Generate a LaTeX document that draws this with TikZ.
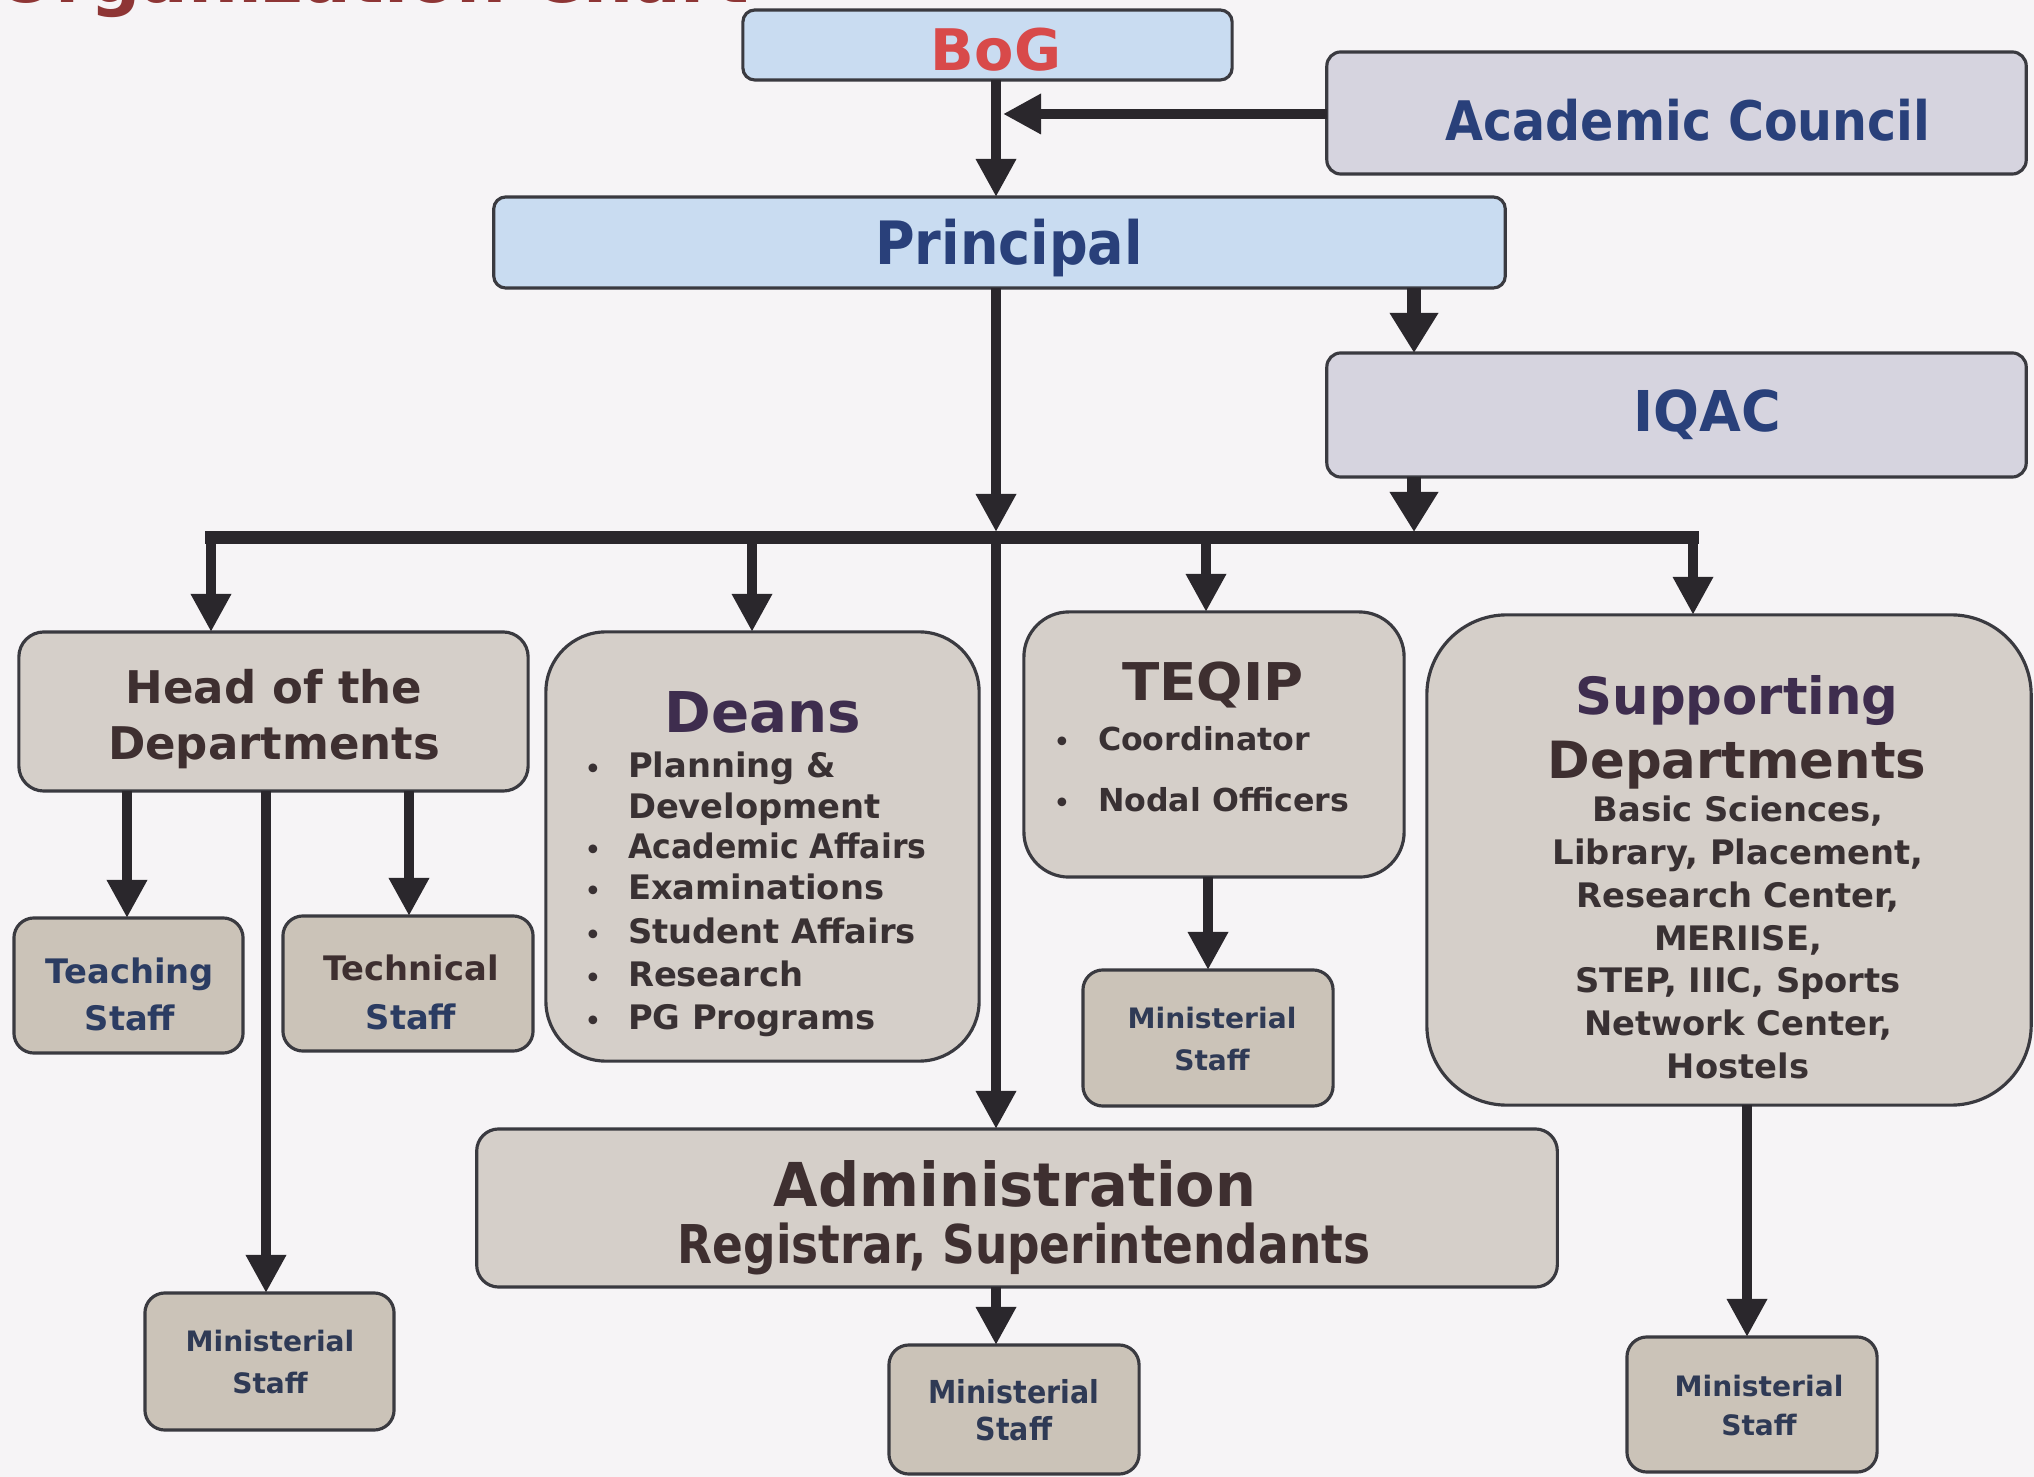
\documentclass[tikz,border=0pt]{standalone}
\usepackage{fontspec}
\usepackage{graphicx}
\setmainfont{DejaVu Sans}
\usetikzlibrary{arrows.meta}
\definecolor{bg}{HTML}{F6F4F6}
\definecolor{bluef}{HTML}{C9DCF1}
\definecolor{lavf}{HTML}{D6D4DF}
\definecolor{beigef}{HTML}{D5CFC9}
\definecolor{stafff}{HTML}{CBC3B8}
\definecolor{boxln}{HTML}{3A3A40}
\definecolor{arrc}{HTML}{2A272C}
\definecolor{redt}{HTML}{D84A4A}
\definecolor{bluet}{HTML}{29407A}
\definecolor{brownt}{HTML}{3E2F30}
\definecolor{purplet}{HTML}{3E2D4E}
\definecolor{itemt}{HTML}{393133}
\definecolor{teacht}{HTML}{2B3C62}
\definecolor{ministt}{HTML}{2F3A55}
\definecolor{titlec}{HTML}{8E3535}
\newcommand\myfs[1]{\fontsize{#1}{#1}\selectfont}
\newcommand\hsc[2]{\scalebox{#1}[1]{#2}}
\begin{document}
\begin{tikzpicture}[x=0.01cm,y=-0.01cm,
  box/.style={draw=boxln,line width=0.9pt,rectangle,inner sep=0pt,outer sep=0pt},
  bluebox/.style={box,fill=bluef,rounded corners=0.12cm},
  lavbox/.style={box,fill=lavf,rounded corners=0.14cm},
  beigebox/.style={box,fill=beigef},
  staffbox/.style={box,fill=stafff,rounded corners=0.2cm},
  lbl/.style={anchor=base,inner sep=0pt,outer sep=0pt,font=\bfseries},
  arr/.style={draw=arrc,line width=2.85pt,-{Triangle[width=0.38cm,length=0.38cm]}},
  bigarr/.style={draw=arrc,line width=4pt,-{Triangle[width=0.46cm,length=0.40cm]}},
  bus/.style={draw=arrc,line width=3.7pt}
]
\useasboundingbox[fill=bg] (0,0) rectangle (2034,1477);

% cropped title
\node[lbl,anchor=base west,text=titlec] (title) at (-4,3) {\myfs{20}Organization Chart};

% boxes
\node[bluebox,minimum width=4.89cm,minimum height=0.70cm] (bog) at (987.5,45) {};
\node[lavbox,minimum width=6.99cm,minimum height=1.22cm] (acad) at (1676.5,113) {};
\node[bluebox,minimum width=10.11cm,minimum height=0.91cm] (princ) at (999.5,242.5) {};
\node[lavbox,minimum width=6.99cm,minimum height=1.24cm] (iqac) at (1676.5,415) {};
\node[beigebox,rounded corners=0.25cm,minimum width=5.09cm,minimum height=1.59cm] (hod) at (273.5,711.5) {};
\node[beigebox,rounded corners=0.6cm,minimum width=4.33cm,minimum height=4.29cm] (deans) at (762.5,846.5) {};
\node[beigebox,rounded corners=0.45cm,minimum width=3.80cm,minimum height=2.65cm] (teqip) at (1214,744.5) {};
\node[beigebox,rounded corners=0.8cm,minimum width=6.04cm,minimum height=4.90cm] (supp) at (1729,860) {};
\node[staffbox,minimum width=2.29cm,minimum height=1.35cm] (teach) at (128.5,985.5) {};
\node[staffbox,minimum width=2.50cm,minimum height=1.35cm] (tech) at (408,983.5) {};
\node[staffbox,minimum width=2.49cm,minimum height=1.37cm] (minhod) at (269.5,1361.5) {};
\node[staffbox,minimum width=2.50cm,minimum height=1.36cm] (minteq) at (1208,1038) {};
\node[beigebox,rounded corners=0.22cm,minimum width=10.80cm,minimum height=1.58cm] (admin) at (1017,1208) {};
\node[staffbox,minimum width=2.50cm,minimum height=1.29cm] (minadm) at (1014,1409.5) {};
\node[staffbox,minimum width=2.50cm,minimum height=1.35cm] (minsup) at (1752,1404.5) {};

% connector coordinates
\coordinate (M) at (996,0);
\coordinate (I) at (1414,0);
\coordinate (acTip) at (1003,114);
\coordinate (acOut) at (1327,114);
\coordinate (busTop) at (996,532);
\coordinate (busC) at (996,538);
\coordinate (busI) at (1414,532);
\coordinate (busL) at (205,538);
\coordinate (busR) at (1699,538);
\coordinate (d1) at (211,533);
\coordinate (d2) at (752,533);
\coordinate (d3) at (1206,533);
\coordinate (d4) at (1693,533);
\coordinate (h1) at (127,0);
\coordinate (h2) at (409,0);
\coordinate (h3) at (266,0);
\coordinate (t1) at (1208,0);
\coordinate (s1) at (1747,0);

% connectors
\draw[arr] (bog.south -| M) -- (princ.north -| M);
\draw[arr] (acOut) -- (acTip);
\draw[arr] (princ.south -| M) -- (busTop);
\draw[arr] (busC) -- (admin.north -| M);
\draw[bigarr] (princ.south -| I) -- (iqac.north -| I);
\draw[bigarr] (iqac.south -| I) -- (busI);
\draw[bus] (busL) -- (busR);
\draw[arr] (d1) -- (hod.north -| d1);
\draw[arr] (d2) -- (deans.north -| d2);
\draw[arr] (d3) -- (teqip.north -| d3);
\draw[arr] (d4) -- (supp.north -| d4);
\draw[arr] (hod.south -| h1) -- (teach.north -| h1);
\draw[arr] (hod.south -| h2) -- (tech.north -| h2);
\draw[arr] (hod.south -| h3) -- (minhod.north -| h3);
\draw[arr] (teqip.south -| t1) -- (minteq.north -| t1);
\draw[arr] (admin.south -| M) -- (minadm.north -| M);
\draw[arr] (supp.south -| s1) -- (minsup.north -| s1);

% texts
\node[lbl,text=redt] (bogt) at (996,71) {\myfs{16.3}BoG};
\node[lbl,text=bluet] (acadt) at (1688,141) {\myfs{15.5}\hsc{0.9}{Academic Council}};
\node[lbl,text=bluet] (princt) at (1009,265) {\myfs{17}\hsc{0.905}{Principal}};
\node[lbl,text=bluet] (iqact) at (1707,432) {\myfs{16}\hsc{0.96}{IQAC}};

\node[lbl,text=brownt] (hodt1) at (274,704) {\myfs{12.8}Head of the};
\node[lbl,text=brownt] (hodt2) at (274,760) {\myfs{12.8}Departments};

\node[lbl,text=purplet] (deanst) at (763,733) {\myfs{16}Deans};
\node[lbl,anchor=base west,text=itemt] (dl1) at (628,778) {\myfs{9.6}Planning \&};
\node[lbl,anchor=base west,text=itemt] (dl2) at (628,819) {\myfs{9.6}Development};
\node[lbl,anchor=base west,text=itemt] (dl3) at (628,859) {\myfs{9.6}\hsc{0.935}{Academic Affairs}};
\node[lbl,anchor=base west,text=itemt] (dl4) at (628,900) {\myfs{9.6}Examinations};
\node[lbl,anchor=base west,text=itemt] (dl5) at (628,943) {\myfs{9.6}Student Affairs};
\node[lbl,anchor=base west,text=itemt] (dl6) at (628,986) {\myfs{9.6}Research};
\node[lbl,anchor=base west,text=itemt] (dl7) at (628,1029) {\myfs{9.6}PG Programs};
\foreach \y [count=\i] in {778,859,900,943,986,1029}
  \node[lbl,text=itemt] (db\i) at (593,\y) {\myfs{7}•};

\node[lbl,text=brownt] (teqipt) at (1213,701) {\myfs{14.8}\hsc{1.05}{TEQIP}};
\node[lbl,anchor=base west,text=itemt] (tq1) at (1098,751) {\myfs{9}Coordinator};
\node[lbl,anchor=base west,text=itemt] (tq2) at (1098,812) {\myfs{9}Nodal Officers};
\node[lbl,text=itemt] (tb1) at (1062,751) {\myfs{7}•};
\node[lbl,text=itemt] (tb2) at (1062,812) {\myfs{7}•};

\node[lbl,text=purplet] (suppt1) at (1737,715) {\myfs{14.6}Supporting};
\node[lbl,text=brownt] (suppt2) at (1737,779) {\myfs{14.6}Departments};
\node[lbl,text=itemt] (sl1) at (1738,822) {\myfs{9.6}Basic Sciences,};
\node[lbl,text=itemt] (sl2) at (1738,865) {\myfs{9.6}Library, Placement,};
\node[lbl,text=itemt] (sl3) at (1738,908) {\myfs{9.6}Research Center,};
\node[lbl,text=itemt] (sl4) at (1738,950) {\myfs{9.6}MERIISE,};
\node[lbl,text=itemt] (sl5) at (1738,992) {\myfs{9.6}STEP, IIIC, Sports};
\node[lbl,text=itemt] (sl6) at (1738,1035) {\myfs{9.6}Network Center,};
\node[lbl,text=itemt] (sl7) at (1738,1078) {\myfs{9.6}Hostels};

\node[lbl,text=teacht] (teacht1) at (130,983) {\myfs{9.6}Teaching};
\node[lbl,text=teacht] (teacht2) at (130,1031) {\myfs{9.6}Staff};
\node[lbl,text=brownt] (techt1) at (411,980) {\myfs{9.6}Technical};
\node[lbl,text=teacht] (techt2) at (411,1029) {\myfs{9.6}Staff};

\node[lbl,text=ministt] (mh1) at (270,1351) {\myfs{8}Ministerial};
\node[lbl,text=ministt] (mh2) at (270,1393) {\myfs{8}Staff};
\node[lbl,text=ministt] (mt1) at (1212,1028) {\myfs{8}Ministerial};
\node[lbl,text=ministt] (mt2) at (1212,1070) {\myfs{8}Staff};
\node[lbl,text=ministt] (ma1) at (1014,1403) {\myfs{9}\hsc{0.9}{Ministerial}};
\node[lbl,text=ministt] (ma2) at (1014,1440) {\myfs{9}\hsc{0.9}{Staff}};
\node[lbl,text=ministt] (ms1) at (1759,1396) {\myfs{8}Ministerial};
\node[lbl,text=ministt] (ms2) at (1759,1435) {\myfs{8}Staff};

\node[lbl,text=brownt] (admt1) at (1015,1206) {\myfs{17.2}\hsc{0.95}{Administration}};
\node[lbl,text=brownt] (admt2) at (1024,1263) {\myfs{15.2}\hsc{0.85}{Registrar, Superintendants}};
\end{tikzpicture}
\end{document}
